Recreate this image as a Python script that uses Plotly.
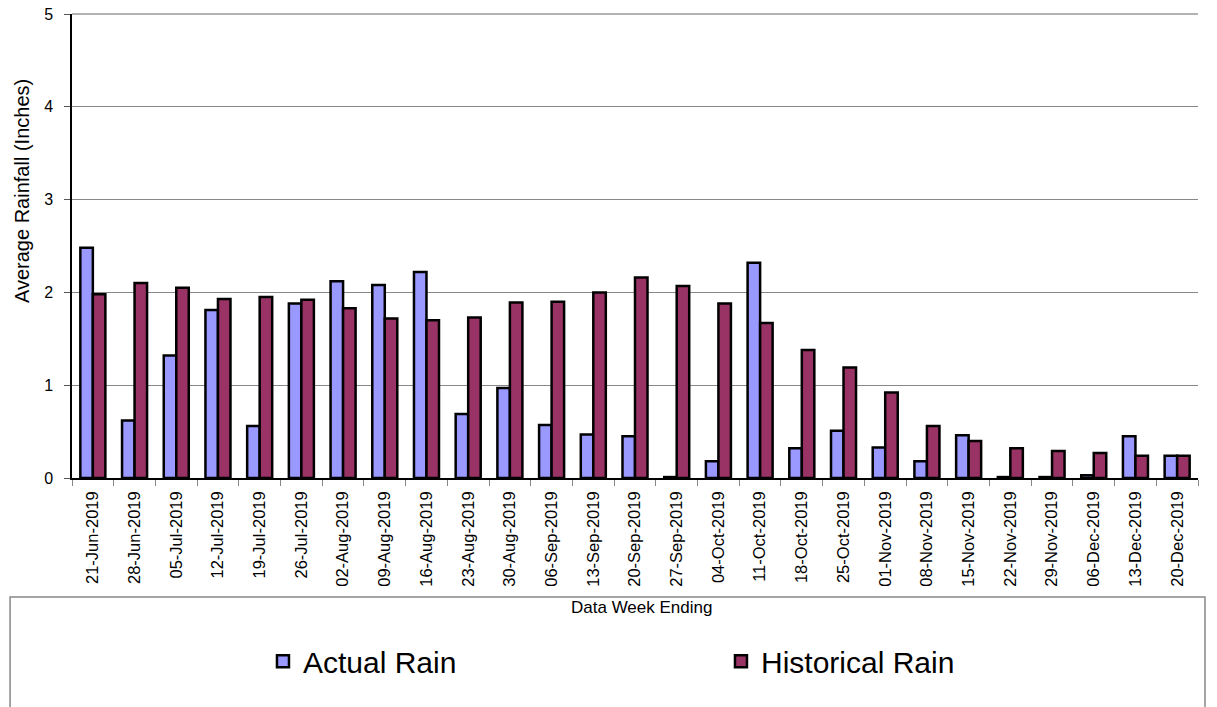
import plotly.graph_objects as go

weeks = ["21-Jun-2019", "28-Jun-2019", "05-Jul-2019", "12-Jul-2019", "19-Jul-2019",
         "26-Jul-2019", "02-Aug-2019", "09-Aug-2019", "16-Aug-2019", "23-Aug-2019",
         "30-Aug-2019", "06-Sep-2019", "13-Sep-2019", "20-Sep-2019", "27-Sep-2019",
         "04-Oct-2019", "11-Oct-2019", "18-Oct-2019", "25-Oct-2019", "01-Nov-2019",
         "08-Nov-2019", "15-Nov-2019", "22-Nov-2019", "29-Nov-2019", "06-Dec-2019",
         "13-Dec-2019", "20-Dec-2019"]

actual_rain = [2.48, 0.62, 1.32, 1.81, 0.56, 1.88, 2.12, 2.08, 2.22, 0.69,
               0.97, 0.57, 0.47, 0.45, 0.01, 0.18, 2.32, 0.32, 0.51, 0.33,
               0.18, 0.46, 0.01, 0.01, 0.03, 0.45, 0.24]

historical_rain = [1.98, 2.10, 2.05, 1.93, 1.95, 1.92, 1.83, 1.72, 1.70, 1.73,
                   1.89, 1.90, 2.00, 2.16, 2.07, 1.88, 1.67, 1.38, 1.19, 0.92,
                   0.56, 0.40, 0.32, 0.29, 0.27, 0.24, 0.24]

font = "Liberation Sans, Arial, sans-serif"

fig = go.Figure()
fig.add_trace(go.Bar(
    name="Actual Rain", x=weeks, y=actual_rain,
    marker=dict(color="#9999FF", line=dict(color="black", width=2.5)),
))
fig.add_trace(go.Bar(
    name="Historical Rain", x=weeks, y=historical_rain,
    marker=dict(color="#993366", line=dict(color="black", width=2.5)),
))

# box around the legend area
fig.add_shape(type="rect", xref="paper", yref="paper",
              x0=-0.055, x1=1.0062, y0=-0.5, y1=-0.2565,
              line=dict(color="#888888", width=1.5), fillcolor="rgba(0,0,0,0)")
# plotly skips the gridline at the very top edge, so draw it
fig.add_shape(type="line", xref="paper", yref="paper", x0=0, x1=1, y0=1, y1=1,
              line=dict(color="#666666", width=1.2), layer="below")

# axis titles
fig.add_annotation(text="Data Week Ending", xref="paper", yref="paper",
                   x=0.506, y=-0.28, xanchor="center", yanchor="middle",
                   showarrow=False, font=dict(size=17))
fig.add_annotation(text="Average Rainfall (Inches)", xref="paper", yref="paper",
                   x=-0.0444, y=0.6185, xanchor="center", yanchor="middle",
                   showarrow=False, textangle=-90, font=dict(size=20))

fig.update_layout(
    width=1217, height=707,
    margin=dict(l=72, r=19, t=14, b=229),
    paper_bgcolor="white", plot_bgcolor="white",
    font=dict(family=font, color="black", size=15),
    barmode="group", bargap=0.4, bargroupgap=0,
    showlegend=True,
    legend=dict(orientation="h", x=0.1696, y=-0.395, xanchor="left", yanchor="middle",
                font=dict(size=30), entrywidth=413, entrywidthmode="pixels",
                itemwidth=30, bgcolor="rgba(0,0,0,0)"),
    xaxis=dict(
        automargin=False,
        tickangle=-90, tickson="boundaries", ticks="outside", ticklen=6,
        tickcolor="#888888", showline=True, linecolor="black", linewidth=1.5,
        showgrid=False, tickfont=dict(size=16.5), ticklabelstandoff=5,
    ),
    yaxis=dict(
        automargin=False,
        range=[0, 5], dtick=1, ticks="outside", ticklen=6,
        tickcolor="#555555", showline=True, linecolor="black", linewidth=1.5,
        showgrid=True, gridcolor="#888888", gridwidth=1, zeroline=False,
        tickfont=dict(size=16), ticklabelstandoff=8,
    ),
)

# drop the browser's default 8px body margin so the figure sits at the page corner
fig.write_html("out.html", config={"displayModeBar": False},
               post_script="document.body.style.margin='0';")
